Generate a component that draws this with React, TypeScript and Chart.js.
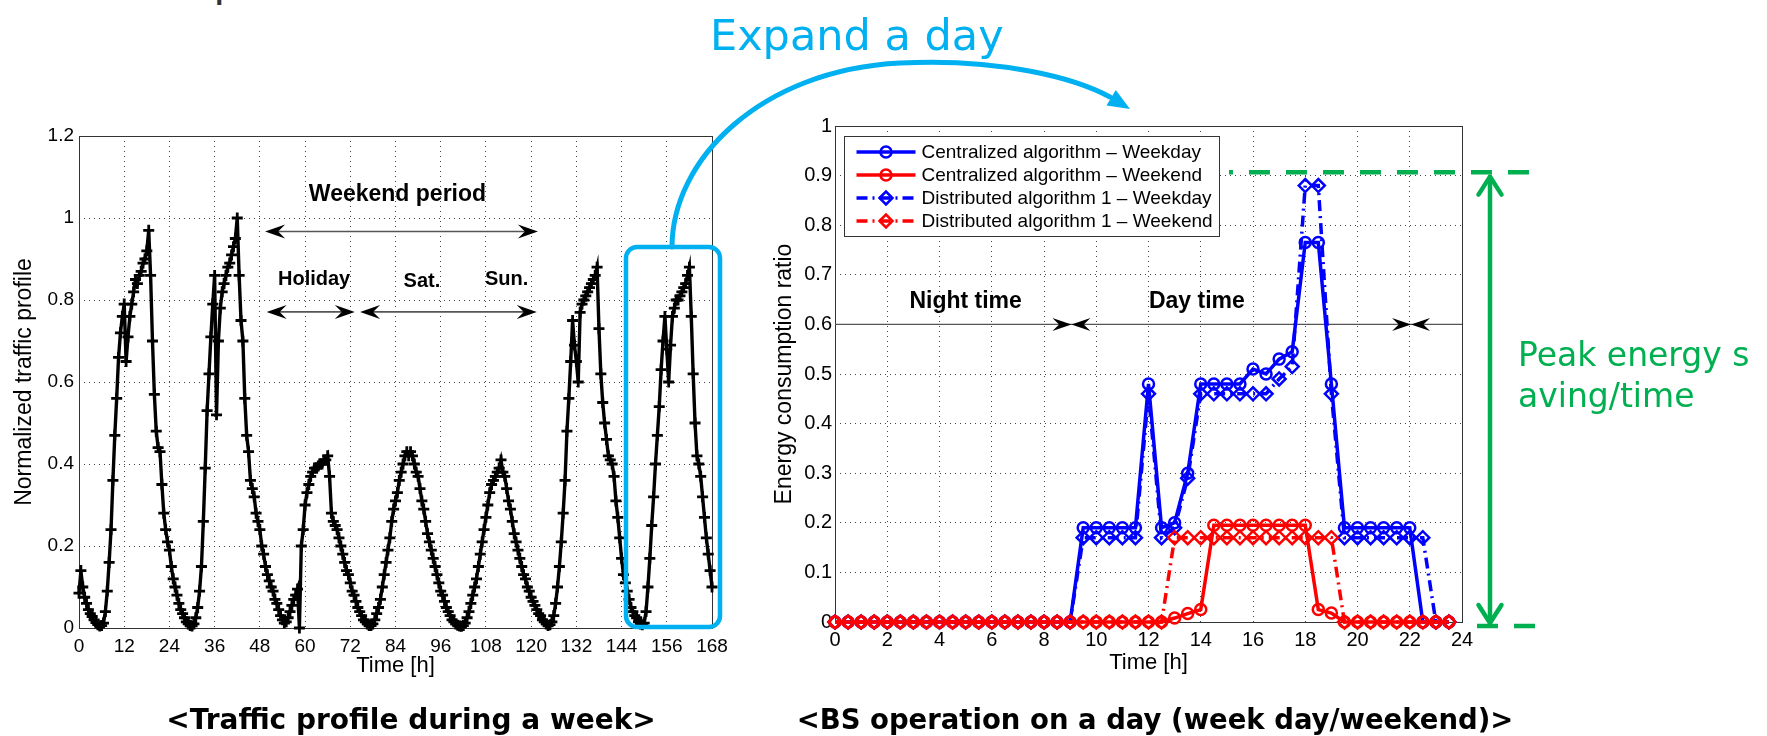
import React, { useEffect, useRef } from "react";
import { Chart, registerables } from "chart.js";

Chart.register(...registerables);

const FONT = '"Liberation Sans", Arial, Helvetica, sans-serif';

// ---------------- Left chart: weekly normalized traffic (30-min samples) ----------------
const TRAFFIC_STEP_H = 0.5;
const weekTickStep = 12;
const trafficDay1 = [0.085, 0.14, 0.10, 0.075, 0.06, 0.045, 0.035, 0.028, 0.02, 0.013,
  0.008, 0.005, 0.006, 0.012, 0.04, 0.09, 0.16, 0.24, 0.36, 0.47,
  0.56, 0.66, 0.72, 0.76, 0.79, 0.65, 0.71, 0.76, 0.79, 0.82,
  0.85, 0.84, 0.86, 0.87, 0.89, 0.90, 0.92, 0.97, 0.86, 0.70,
  0.57, 0.48, 0.44, 0.43, 0.35, 0.28, 0.24, 0.21];
const trafficDay2 = [0.19, 0.15, 0.12, 0.10, 0.08, 0.06, 0.045, 0.035, 0.025, 0.015,
  0.01, 0.006, 0.005, 0.01, 0.025, 0.05, 0.09, 0.15, 0.26, 0.39,
  0.53, 0.62, 0.71, 0.79, 0.86, 0.52, 0.70, 0.78, 0.82, 0.84,
  0.86, 0.88, 0.89, 0.91, 0.93, 0.95, 1.0, 0.86, 0.75, 0.70,
  0.56, 0.47, 0.43, 0.36, 0.34, 0.32, 0.28, 0.26];
const trafficHoliday = [0.24, 0.20, 0.18, 0.15, 0.13, 0.115, 0.10, 0.09, 0.07, 0.06,
  0.045, 0.03, 0.02, 0.012, 0.015, 0.025, 0.04, 0.055, 0.07, 0.08,
  0.095, 0.0, 0.20, 0.24, 0.30, 0.33, 0.35, 0.37, 0.38, 0.39,
  0.39, 0.395, 0.40, 0.40, 0.41, 0.41, 0.42, 0.37, 0.28, 0.26,
  0.25, 0.24, 0.22, 0.20, 0.18, 0.16, 0.14, 0.13];
const trafficSat = [0.11, 0.09, 0.08, 0.065, 0.05, 0.04, 0.03, 0.02, 0.015, 0.01,
  0.006, 0.006, 0.01, 0.02, 0.035, 0.05, 0.07, 0.10, 0.13, 0.16,
  0.19, 0.22, 0.26, 0.29, 0.31, 0.33, 0.36, 0.38, 0.40, 0.42,
  0.43, 0.42, 0.43, 0.42, 0.40, 0.38, 0.37, 0.34, 0.31, 0.29,
  0.26, 0.23, 0.21, 0.19, 0.17, 0.15, 0.13, 0.11];
const trafficSun = [0.09, 0.08, 0.065, 0.05, 0.04, 0.03, 0.02, 0.015, 0.01, 0.007,
  0.005, 0.004, 0.006, 0.012, 0.025, 0.04, 0.06, 0.08, 0.10, 0.12,
  0.15, 0.18, 0.21, 0.24, 0.27, 0.30, 0.33, 0.35, 0.36, 0.37,
  0.38, 0.39, 0.41, 0.38, 0.37, 0.34, 0.31, 0.29, 0.26, 0.23,
  0.21, 0.19, 0.17, 0.15, 0.13, 0.12, 0.10, 0.09];
const trafficDay6 = [0.075, 0.065, 0.055, 0.045, 0.035, 0.03, 0.02, 0.015, 0.01, 0.006,
  0.008, 0.015, 0.03, 0.06, 0.10, 0.15, 0.21, 0.28, 0.36, 0.48,
  0.56, 0.65, 0.75, 0.69, 0.65, 0.60, 0.77, 0.79, 0.80, 0.81,
  0.82, 0.83, 0.84, 0.85, 0.86, 0.88, 0.73, 0.62, 0.55, 0.50,
  0.46, 0.42, 0.41, 0.40, 0.37, 0.31, 0.27, 0.22];
const trafficDay7 = [0.17, 0.13, 0.11, 0.09, 0.07, 0.05, 0.04, 0.03, 0.025, 0.015,
  0.01, 0.008, 0.012, 0.04, 0.10, 0.17, 0.25, 0.32, 0.40, 0.47,
  0.54, 0.63, 0.70, 0.76, 0.68, 0.60, 0.69, 0.76, 0.78, 0.80,
  0.80, 0.81, 0.82, 0.83, 0.84, 0.86, 0.88, 0.76, 0.62, 0.50,
  0.42, 0.40, 0.37, 0.32, 0.27, 0.22, 0.18, 0.14];
const trafficEnd = [0.10];

// ---------------- Right chart: BS operation on a day ----------------
const dayHours = [0, 0.5, 1, 1.5, 2, 2.5, 3, 3.5, 4, 4.5, 5, 5.5, 6, 6.5, 7, 7.5,
  8, 8.5, 9, 9.5, 10, 10.5, 11, 11.5, 12, 12.5, 13, 13.5, 14, 14.5, 15, 15.5,
  16, 16.5, 17, 17.5, 18, 18.5, 19, 19.5, 20, 20.5, 21, 21.5, 22, 22.5, 23, 23.5];
const centralizedWeekday = [0, 0, 0, 0, 0, 0, 0, 0, 0, 0, 0, 0, 0, 0, 0, 0,
  0, 0, 0, 0.19, 0.19, 0.19, 0.19, 0.19, 0.48, 0.19, 0.20, 0.30, 0.48, 0.48, 0.48, 0.48,
  0.51, 0.50, 0.53, 0.545, 0.765, 0.765, 0.48, 0.19, 0.19, 0.19, 0.19, 0.19, 0.19, 0, 0, 0];
const centralizedWeekend = [0, 0, 0, 0, 0, 0, 0, 0, 0, 0, 0, 0, 0, 0, 0, 0,
  0, 0, 0, 0, 0, 0, 0, 0, 0, 0, 0.008, 0.017, 0.025, 0.195, 0.195, 0.195,
  0.195, 0.195, 0.195, 0.195, 0.195, 0.025, 0.018, 0, 0, 0, 0, 0, 0, 0, 0, 0];
const distributedWeekday = [0, 0, 0, 0, 0, 0, 0, 0, 0, 0, 0, 0, 0, 0, 0, 0,
  0, 0, 0, 0.17, 0.17, 0.17, 0.17, 0.17, 0.46, 0.17, 0.19, 0.29, 0.46, 0.46, 0.46, 0.46,
  0.46, 0.46, 0.49, 0.515, 0.88, 0.88, 0.46, 0.17, 0.17, 0.17, 0.17, 0.17, 0.17, 0.17, 0, 0];
const distributedWeekend = [0, 0, 0, 0, 0, 0, 0, 0, 0, 0, 0, 0, 0, 0, 0, 0,
  0, 0, 0, 0, 0, 0, 0, 0, 0, 0, 0.17, 0.17, 0.17, 0.17, 0.17, 0.17,
  0.17, 0.17, 0.17, 0.17, 0.17, 0.17, 0.17, 0, 0, 0, 0, 0, 0, 0, 0, 0];
const peakLevel = 0.907;
const nightDayBoundaries = [9.05, 22.05];

const fmtTick = (v: any) => String(Math.round(Number(v) * 10) / 10);

// ---------------- helpers ----------------
function frameOf(chart: any) {
  const { ctx, chartArea: a } = chart;
  ctx.save();
  ctx.setLineDash([]);
  ctx.strokeStyle = "#333";
  ctx.lineWidth = 1;
  ctx.strokeRect(Math.round(a.left) + 0.5, Math.round(a.top) + 0.5, Math.round(a.right - a.left), Math.round(a.bottom - a.top));
  ctx.restore();
}

function arrowHead(ctx: any, x: number, y: number, dir: number, len: number, half: number) {
  ctx.beginPath();
  ctx.moveTo(x, y);
  ctx.lineTo(x - dir * len, y - half);
  ctx.lineTo(x - dir * len * 0.65, y);
  ctx.lineTo(x - dir * len, y + half);
  ctx.closePath();
  ctx.fill();
}

function doubleArrow(ctx: any, x1: number, x2: number, y: number) {
  ctx.strokeStyle = "#555";
  ctx.lineWidth = 1.6;
  ctx.beginPath();
  ctx.moveTo(x1 + 8, y);
  ctx.lineTo(x2 - 8, y);
  ctx.stroke();
  ctx.fillStyle = "#000";
  arrowHead(ctx, x1, y, -1, 20, 7);
  arrowHead(ctx, x2, y, 1, 20, 7);
}

const leftPlugin = {
  id: "leftAnnot",
  beforeDatasetsDraw(chart: any) {
    frameOf(chart);
  },
  afterDatasetsDraw(chart: any) {
    const { ctx } = chart;
    const xs = chart.scales.x;
    const ys = chart.scales.y;
    ctx.save();
    doubleArrow(ctx, xs.getPixelForValue(49.4), xs.getPixelForValue(121.8), ys.getPixelForValue(0.967));
    doubleArrow(ctx, xs.getPixelForValue(49.8), xs.getPixelForValue(73.2), ys.getPixelForValue(0.771));
    doubleArrow(ctx, xs.getPixelForValue(74.6), xs.getPixelForValue(121.5), ys.getPixelForValue(0.771));
    ctx.fillStyle = "#000";
    ctx.textBaseline = "middle";
    ctx.textAlign = "left";
    ctx.font = `bold 23px ${FONT}`;
    ctx.fillText("Weekend period", xs.getPixelForValue(61.0), ys.getPixelForValue(1.056));
    ctx.textAlign = "center";
    ctx.font = `bold 20px ${FONT}`;
    ctx.fillText("Holiday", xs.getPixelForValue(62.4), ys.getPixelForValue(0.849));
    ctx.fillText("Sat.", xs.getPixelForValue(91), ys.getPixelForValue(0.844));
    ctx.fillText("Sun.", xs.getPixelForValue(113.5), ys.getPixelForValue(0.849));
    ctx.restore();
  },
};

function drawMarker(ctx: any, style: string, x: number, y: number, r: number) {
  ctx.beginPath();
  if (style === "circle") {
    ctx.arc(x, y, r, 0, Math.PI * 2);
  } else {
    ctx.moveTo(x - r, y);
    ctx.lineTo(x, y - r);
    ctx.lineTo(x + r, y);
    ctx.lineTo(x, y + r);
    ctx.closePath();
  }
  ctx.stroke();
}

const rightPlugin = {
  id: "rightAnnot",
  beforeDatasetsDraw(chart: any) {
    frameOf(chart);
    const { ctx, chartArea: a } = chart;
    const xs = chart.scales.x;
    const ys = chart.scales.y;
    const y6 = ys.getPixelForValue(0.6);
    ctx.save();
    ctx.strokeStyle = "#555";
    ctx.lineWidth = 1.4;
    ctx.beginPath();
    ctx.moveTo(a.left, y6);
    ctx.lineTo(a.right, y6);
    ctx.stroke();
    ctx.fillStyle = "#000";
    nightDayBoundaries.forEach((h) => {
      const px = xs.getPixelForValue(h);
      arrowHead(ctx, px, y6, 1, 19, 6.5);
      arrowHead(ctx, px, y6, -1, 19, 6.5);
    });
    ctx.textBaseline = "middle";
    ctx.textAlign = "center";
    ctx.font = `bold 23px ${FONT}`;
    ctx.fillText("Night time", xs.getPixelForValue(5.0), ys.getPixelForValue(0.646));
    ctx.fillText("Day time", xs.getPixelForValue(13.85), ys.getPixelForValue(0.646));
    ctx.restore();
  },
  afterDraw(chart: any) {
    const { ctx, chartArea: a } = chart;
    const xs = chart.scales.x;
    const ys = chart.scales.y;
    ctx.save();
    // legend
    const bx = Math.round(a.left) + 9.5;
    const by = Math.round(a.top) + 10.5;
    const bw = 375;
    const bh = 100;
    ctx.fillStyle = "#fff";
    ctx.fillRect(bx, by, bw, bh);
    ctx.strokeStyle = "#333";
    ctx.lineWidth = 1;
    ctx.setLineDash([]);
    ctx.strokeRect(bx, by, bw, bh);
    chart.data.datasets.forEach((ds: any, i: number) => {
      const ry = by + 15.5 + i * 23;
      ctx.strokeStyle = ds.borderColor;
      ctx.lineWidth = 3.5;
      ctx.setLineDash(ds.borderDash || []);
      ctx.beginPath();
      ctx.moveTo(bx + 12, ry);
      ctx.lineTo(bx + 71, ry);
      ctx.stroke();
      ctx.setLineDash([]);
      ctx.lineWidth = 2.5;
      ctx.fillStyle = "#fff";
      drawMarker(ctx, ds.pointStyle, bx + 41.5, ry, ds.pointStyle === "circle" ? 5.5 : 6.5);
      ctx.fillStyle = "#000";
      ctx.font = `19px ${FONT}`;
      ctx.textAlign = "left";
      ctx.textBaseline = "middle";
      ctx.fillText(ds.label, bx + 77, ry + 1);
    });
    // green peak annotation
    const green = "#00B050";
    const yTop = ys.getPixelForValue(peakLevel);
    const yBot = ys.getPixelForValue(0) + 4;
    ctx.strokeStyle = green;
    ctx.lineWidth = 4.5;
    ctx.lineCap = "butt";
    ctx.setLineDash([21, 16]);
    ctx.lineDashOffset = 17;
    ctx.beginPath();
    ctx.moveTo(xs.getPixelForValue(15.08), yTop);
    ctx.lineTo(a.right + 68, yTop);
    ctx.stroke();
    ctx.lineDashOffset = 0;
    ctx.beginPath();
    ctx.moveTo(a.right + 15, yBot);
    ctx.lineTo(a.right + 73, yBot);
    ctx.stroke();
    ctx.setLineDash([]);
    const ax = a.right + 28;
    const t1 = yTop + 4.5;
    const t2 = ys.getPixelForValue(0) + 1;
    ctx.lineWidth = 4.5;
    ctx.lineCap = "round";
    ctx.lineJoin = "round";
    ctx.beginPath();
    ctx.moveTo(ax, t1);
    ctx.lineTo(ax, t2);
    ctx.stroke();
    ctx.beginPath();
    ctx.moveTo(ax - 11.5, t1 + 18);
    ctx.lineTo(ax, t1);
    ctx.lineTo(ax + 11.5, t1 + 18);
    ctx.stroke();
    ctx.beginPath();
    ctx.moveTo(ax - 11.5, t2 - 18);
    ctx.lineTo(ax, t2);
    ctx.lineTo(ax + 11.5, t2 - 18);
    ctx.stroke();
    ctx.restore();
  },
};

function TrafficWeekChart() {
  const ref = useRef<HTMLCanvasElement>(null);
  useEffect(() => {
    const series = [...trafficDay1, ...trafficDay2, ...trafficHoliday, ...trafficSat, ...trafficSun, ...trafficDay6, ...trafficDay7, ...trafficEnd];
    const points = series.map((v, i) => ({ x: i * TRAFFIC_STEP_H, y: v }));
    const chart = new Chart(ref.current as HTMLCanvasElement, {
      type: "line",
      data: {
        datasets: [
          {
            label: "Traffic",
            data: points,
            borderColor: "#000",
            backgroundColor: "#000",
            borderWidth: 3.4,
            pointStyle: "cross",
            pointRadius: 5.5,
            pointBorderWidth: 2.8,
            pointBorderColor: "#000",
            tension: 0,
            clip: false,
          } as any,
        ],
      },
      options: {
        responsive: false,
        animation: false,
        events: [],
        layout: { padding: { top: 36, right: 48, left: 0, bottom: 0 } },
        plugins: { legend: { display: false }, tooltip: { enabled: false } },
        scales: {
          x: {
            type: "linear",
            min: 0,
            max: 168,
            afterFit: (s: any) => { s.height = 72; },
            ticks: { stepSize: weekTickStep, autoSkip: false, maxRotation: 0, padding: 7, color: "#000", font: { family: FONT, size: 19 } },
            grid: { color: "#444", lineWidth: 1, drawTicks: false },
            border: { display: false, dash: [1, 4] },
            title: { display: true, text: "Time [h]", color: "#000", font: { family: FONT, size: 22 }, padding: { top: 0, bottom: 21 } },
          },
          y: {
            min: 0,
            max: 1.2,
            afterFit: (s: any) => { s.width = 79; },
            ticks: { stepSize: 0.2, padding: 5, color: "#000", font: { family: FONT, size: 19 }, callback: fmtTick },
            grid: { color: "#444", lineWidth: 1, drawTicks: false },
            border: { display: false, dash: [1, 4] },
            title: { display: true, text: "Normalized traffic profile", color: "#000", font: { family: FONT, size: 23 }, padding: { top: 11, bottom: 0 } },
          },
        },
      } as any,
      plugins: [leftPlugin],
    });
    return () => chart.destroy();
  }, []);
  return <canvas ref={ref} width={760} height={600} style={{ position: "absolute", left: 0, top: 100, width: 760, height: 600 }} />;
}

function DayOperationChart() {
  const ref = useRef<HTMLCanvasElement>(null);
  useEffect(() => {
    const pts = (vals: number[]) => dayHours.map((h, i) => ({ x: h, y: vals[i] }));
    const common = { tension: 0, clip: false, backgroundColor: "rgba(0,0,0,0)", pointBackgroundColor: "rgba(0,0,0,0)", pointBorderWidth: 2.5 };
    const chart = new Chart(ref.current as HTMLCanvasElement, {
      type: "line",
      data: {
        datasets: [
          { ...common, label: "Centralized algorithm – Weekday", data: pts(centralizedWeekday), borderColor: "#0000FF", pointBorderColor: "#0000FF", borderWidth: 3.5, pointStyle: "circle", pointRadius: 5.5, order: 3 },
          { ...common, label: "Centralized algorithm – Weekend", data: pts(centralizedWeekend), borderColor: "#FF0000", pointBorderColor: "#FF0000", borderWidth: 3.5, pointStyle: "circle", pointRadius: 5.5, order: 1 },
          { ...common, label: "Distributed algorithm 1 – Weekday", data: pts(distributedWeekday), borderColor: "#0000FF", pointBorderColor: "#0000FF", borderWidth: 3.5, borderDash: [11, 5, 2, 5], pointStyle: "rectRot", pointRadius: 6.5, order: 2 },
          { ...common, label: "Distributed algorithm 1 – Weekend", data: pts(distributedWeekend), borderColor: "#FF0000", pointBorderColor: "#FF0000", borderWidth: 3.5, borderDash: [11, 5, 2, 5], pointStyle: "rectRot", pointRadius: 6.5, order: 0 },
        ] as any,
      },
      options: {
        responsive: false,
        animation: false,
        events: [],
        layout: { padding: { top: 36, right: 305, left: 0, bottom: 0 } },
        plugins: { legend: { display: false }, tooltip: { enabled: false } },
        scales: {
          x: {
            type: "linear",
            min: 0,
            max: 24,
            afterFit: (s: any) => { s.height = 78; },
            ticks: { stepSize: 2, autoSkip: false, maxRotation: 0, padding: 6, color: "#000", font: { family: FONT, size: 20 } },
            grid: { color: "#444", lineWidth: 1, drawTicks: false },
            border: { display: false, dash: [1, 4] },
            title: { display: true, text: "Time [h]", color: "#000", font: { family: FONT, size: 22 }, padding: { top: 0, bottom: 24 } },
          },
          y: {
            min: 0,
            max: 1,
            afterFit: (s: any) => { s.width = 95; },
            ticks: { stepSize: 0.1, padding: 3, color: "#000", font: { family: FONT, size: 20 }, callback: fmtTick },
            grid: { color: "#444", lineWidth: 1, drawTicks: false },
            border: { display: false, dash: [1, 4] },
            title: { display: true, text: "Energy consumption ratio", color: "#000", font: { family: FONT, size: 23 }, padding: { top: 31, bottom: 0 } },
          },
        },
      } as any,
      plugins: [rightPlugin],
    });
    return () => chart.destroy();
  }, []);
  return <canvas ref={ref} width={1027} height={610} style={{ position: "absolute", left: 740, top: 90, width: 1027, height: 610 }} />;
}

function Overlay() {
  const ref = useRef<HTMLCanvasElement>(null);
  useEffect(() => {
    const c = ref.current as HTMLCanvasElement;
    const ctx = c.getContext("2d") as CanvasRenderingContext2D;
    ctx.clearRect(0, 0, c.width, c.height);
    const blue = "#00B0F0";
    ctx.strokeStyle = blue;
    ctx.fillStyle = blue;
    ctx.lineWidth = 4.5;
    ctx.beginPath();
    (ctx as any).roundRect(626, 247, 94, 380, 11);
    ctx.stroke();
    ctx.lineWidth = 5;
    ctx.lineCap = "round";
    ctx.beginPath();
    ctx.moveTo(672, 247);
    ctx.bezierCurveTo(672, 160, 760, 70, 900, 63);
    ctx.bezierCurveTo(1000, 58, 1075, 78, 1110, 97);
    ctx.stroke();
    const tipX = 1130, tipY = 109;
    const ang = Math.atan2(tipY - 97, tipX - 1110);
    const L = 22, W = 9;
    const bxp = tipX - L * Math.cos(ang), byp = tipY - L * Math.sin(ang);
    ctx.beginPath();
    ctx.moveTo(tipX, tipY);
    ctx.lineTo(bxp + W * Math.sin(ang), byp - W * Math.cos(ang));
    ctx.lineTo(bxp - W * Math.sin(ang), byp + W * Math.cos(ang));
    ctx.closePath();
    ctx.fill();
  }, []);
  return <canvas ref={ref} width={1767} height={736} style={{ position: "absolute", left: 0, top: 0, width: 1767, height: 736, pointerEvents: "none" }} />;
}

const HAND = '"Comic Sans MS", "DejaVu Sans", sans-serif';

export default function App() {
  return (
    <div style={{ position: "absolute", left: 0, top: 0, width: 1767, height: 736, overflow: "hidden", background: "#fff" }}>
      <div style={{ position: "absolute", left: 110, top: -41, fontFamily: HAND, fontSize: 44, lineHeight: 1, color: "#333", whiteSpace: "nowrap" }}>Interpretation</div>
      <TrafficWeekChart />
      <DayOperationChart />
      <Overlay />
      <div style={{ position: "absolute", left: 710, top: 14, fontFamily: HAND, fontSize: 43, lineHeight: 1, color: "#00B0F0", whiteSpace: "nowrap" }}>Expand a day</div>
      <div style={{ position: "absolute", left: 1518, top: 334, fontFamily: HAND, fontSize: 33, lineHeight: "41px", color: "#00B050", whiteSpace: "nowrap" }}>
        Peak energy s<br />aving/time
      </div>
      <div style={{ position: "absolute", left: 11, top: 706, width: 800, textAlign: "center", fontFamily: HAND, fontWeight: "bold", fontSize: 28, lineHeight: 1, color: "#000", whiteSpace: "nowrap" }}>&lt;Traffic profile during a week&gt;</div>
      <div style={{ position: "absolute", left: 755, top: 706, width: 800, textAlign: "center", fontFamily: HAND, fontWeight: "bold", fontSize: 27.5, lineHeight: 1, color: "#000", whiteSpace: "nowrap" }}>&lt;BS operation on a day (week day/weekend)&gt;</div>
    </div>
  );
}
